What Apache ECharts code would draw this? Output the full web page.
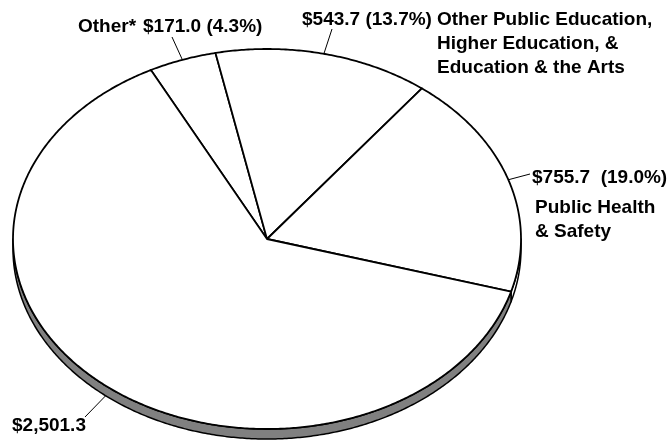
<!DOCTYPE html>
<html><head><meta charset="utf-8">
<script src="https://cdn.jsdelivr.net/npm/echarts@6/dist/echarts.min.js"></script>
<style>html,body{margin:0;padding:0;background:#fff}#c{width:667px;height:440px}</style>
</head><body><div id="c"></div>
<script>
// ---- data ----
const categories = ['Other*', 'Other Public Education,\nHigher Education, &\nEducation & the Arts', 'Public Health\n& Safety', ''];
const values = [171.0, 543.7, 755.7, 2501.3];
const valueLabels = ['$171.0', '$543.7', '$755.7', '$2,501.3'];
const percentLabels = ['(4.3%)', '(13.7%)', '(19.0%)', ''];

// ---- layout / style (not data) ----
const CX = 267, CY = 239, RX = 254, RY = 190, DEPTH = 10, START = -117.2;
const sideFill = ['#ffffff', '#ffffff', '#ffffff', '#808080'];
const FONT = 'bold 19px "Liberation Sans", Arial, Helvetica, sans-serif';
const LH = 24;
const valueGap = [' ', ' ', '  ', ''];
// label positions: value text (x, baseline), name text (x, baseline), leader end point
const labelLayout = [
  { vx: 143, vy: 34, nx: 78, ny: 34, lx: 172, ly: 37, onSide: false },
  { vx: 302, vy: 27, nx: 437, ny: 27, lx: 332, ly: 29, onSide: false },
  { vx: 532, vy: 185, nx: 535, ny: 215, lx: 530, ly: 174, onSide: false },
  { vx: 12, vy: 433, nx: 0, ny: 0, lx: 85, ly: 417, onSide: true }
];

const total = values.reduce((a, b) => a + b, 0);
const starts = [], ends = [];
(function () {
  let a = START;
  values.forEach(v => { starts.push(a); a += v / total * 360; ends.push(a); });
})();
const rad = d => d * Math.PI / 180;
function pt(deg, dy) { return [CX + RX * Math.cos(rad(deg)), CY + RY * Math.sin(rad(deg)) + (dy || 0)]; }
function arc(a0, a1, dy) {
  const pts = []; const n = Math.max(2, Math.ceil(Math.abs(a1 - a0) / 0.5));
  for (let k = 0; k <= n; k++) pts.push(pt(a0 + (a1 - a0) * k / n, dy));
  return pts;
}

function renderSide(params) {
  const i = params.dataIndex;
  const children = [];
  [-360, 0, 360].forEach(off => {
    const a0 = Math.max(starts[i] + off, 0), a1 = Math.min(ends[i] + off, 180);
    if (a1 > a0) {
      const pts = arc(a0, a1, 0).concat(arc(a1, a0, DEPTH));
      children.push({ type: 'polygon', shape: { points: pts },
        style: { fill: sideFill[i], stroke: '#000', lineWidth: 1.5, lineJoin: 'round' } });
    }
  });
  return { type: 'group', children };
}
function renderTop(params) {
  const i = params.dataIndex;
  const pts = [[CX, CY]].concat(arc(starts[i], ends[i], 0));
  return { type: 'polygon', shape: { points: pts },
    style: { fill: '#ffffff', stroke: '#000', lineWidth: 1.8, lineJoin: 'miter' } };
}
function txt(s, x, baseline) {
  return { type: 'text', style: { text: s, x: x, y: baseline - 6.8, font: FONT, fill: '#000',
    textAlign: 'left', textVerticalAlign: 'middle' } };
}
function renderLabel(params) {
  const i = params.dataIndex, L = labelLayout[i];
  const mid = (starts[i] + ends[i]) / 2;
  const p = pt(mid, L.onSide ? DEPTH : 0);
  const children = [
    { type: 'line', shape: { x1: p[0], y1: p[1], x2: L.lx, y2: L.ly }, style: { stroke: '#000', lineWidth: 1 } }
  ];
  const v = valueLabels[i] + (percentLabels[i] ? valueGap[i] + percentLabels[i] : '');
  children.push(txt(v, L.vx, L.vy));
  if (categories[i]) {
    categories[i].split('\n').forEach((s, k) => children.push(txt(s, L.nx, L.ny + k * LH)));
  }
  return { type: 'group', children };
}

const seriesData = values.map((v, i) => ({ value: [i, v], name: categories[i] }));
const chart = echarts.init(document.getElementById('c'), null, { renderer: 'canvas' });
chart.setOption({
  animation: false,
  backgroundColor: '#ffffff',
  series: [
    { type: 'custom', coordinateSystem: 'none', data: seriesData, renderItem: renderSide, z: 1, silent: true },
    { type: 'custom', coordinateSystem: 'none', data: seriesData, renderItem: renderTop, z: 2, silent: true },
    { type: 'custom', coordinateSystem: 'none', data: seriesData, renderItem: renderLabel, z: 3, silent: true }
  ]
});
</script>
</body></html>
